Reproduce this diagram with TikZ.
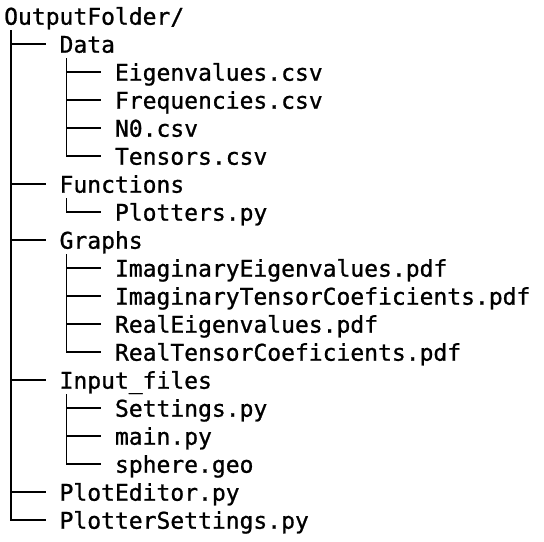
\documentclass[tikz,border=0pt]{standalone}
\usepackage{fontspec}
\newfontfamily\treefont[FakeBold=1]{DejaVu Sans Mono}
\usepackage{tikz}
\usetikzlibrary{calc}
\tikzset{entry/.style={anchor=west, inner sep=0pt, text height=22.7bp, text depth=5.3bp, font=\treefont\fontsize{23bp}{28bp}\selectfont}, branch/.style={draw=black, line width=1.6bp}}
\newcommand{\cw}{13.85bp}
\newcommand{\hw}{6.9bp}

\begin{document}
\begin{tikzpicture}[x=1bp, y=-1bp]
    \useasboundingbox (0,0) rectangle (544,542);
    \node[entry] (out) at (4,16) {OutputFolder/};
    \node[entry] (data) at (59.4,44) {Data};
    \node[entry] (eigcsv) at (114.8,72) {Eigenvalues.csv};
    \node[entry] (freqcsv) at (114.8,100) {Frequencies.csv};
    \node[entry] (nzero) at (114.8,128) {N0.csv};
    \node[entry] (tens) at (114.8,156) {Tensors.csv};
    \node[entry] (func) at (59.4,184) {Functions};
    \node[entry] (plotters) at (114.8,212) {Plotters.py};
    \node[entry] (graphs) at (59.4,240) {Graphs};
    \node[entry] (imeig) at (114.8,268) {ImaginaryEigenvalues.pdf};
    \node[entry] (imtens) at (114.8,296) {ImaginaryTensorCoeficients.pdf};
    \node[entry] (reeig) at (114.8,324) {RealEigenvalues.pdf};
    \node[entry] (retens) at (114.8,352) {RealTensorCoeficients.pdf};
    \node[entry] (input) at (59.4,380) {Input\_files};
    \node[entry] (settings) at (114.8,408) {Settings.py};
    \node[entry] (mainpy) at (114.8,436) {main.py};
    \node[entry] (sphere) at (114.8,464) {sphere.geo};
    \node[entry] (ploted) at (59.4,492) {PlotEditor.py};
    \node[entry] (plotset) at (59.4,520) {PlotterSettings.py};
    % top level
    \draw[branch] ([xshift=\hw]out.south west) |- ([xshift=-\cw]data.west);
    \draw[branch] ([xshift=\hw]out.south west) |- ([xshift=-\cw]func.west);
    \draw[branch] ([xshift=\hw]out.south west) |- ([xshift=-\cw]graphs.west);
    \draw[branch] ([xshift=\hw]out.south west) |- ([xshift=-\cw]input.west);
    \draw[branch] ([xshift=\hw]out.south west) |- ([xshift=-\cw]ploted.west);
    \draw[branch] ([xshift=\hw]out.south west) |- ([xshift=-\cw]plotset.west);
    % Data
    \draw[branch] ([xshift=\hw]data.south west) |- ([xshift=-\cw]eigcsv.west);
    \draw[branch] ([xshift=\hw]data.south west) |- ([xshift=-\cw]freqcsv.west);
    \draw[branch] ([xshift=\hw]data.south west) |- ([xshift=-\cw]nzero.west);
    \draw[branch] ([xshift=\hw]data.south west) |- ([xshift=-\cw]tens.west);
    % Functions
    \draw[branch] ([xshift=\hw]func.south west) |- ([xshift=-\cw]plotters.west);
    % Graphs
    \draw[branch] ([xshift=\hw]graphs.south west) |- ([xshift=-\cw]imeig.west);
    \draw[branch] ([xshift=\hw]graphs.south west) |- ([xshift=-\cw]imtens.west);
    \draw[branch] ([xshift=\hw]graphs.south west) |- ([xshift=-\cw]reeig.west);
    \draw[branch] ([xshift=\hw]graphs.south west) |- ([xshift=-\cw]retens.west);
    % Input_files
    \draw[branch] ([xshift=\hw]input.south west) |- ([xshift=-\cw]settings.west);
    \draw[branch] ([xshift=\hw]input.south west) |- ([xshift=-\cw]mainpy.west);
    \draw[branch] ([xshift=\hw]input.south west) |- ([xshift=-\cw]sphere.west);
\end{tikzpicture}
\end{document}
